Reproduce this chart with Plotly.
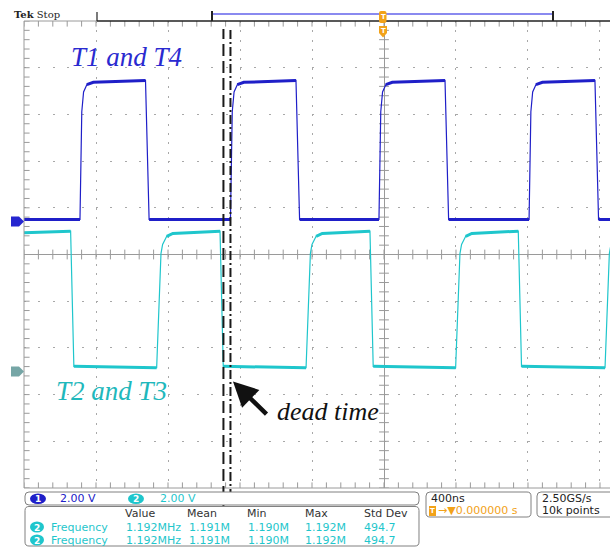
import plotly.graph_objects as go

# ---------------- scope settings ----------------
TIME_PER_DIV_NS = 400
VOLT_PER_DIV = 2.0
X_RANGE_NS = [-2000, 1255.6]
DIV_RANGE = [-5, 5]
CH1_OFFSET_DIV = 0.707
CH2_OFFSET_DIV = -2.51

# ---------------- channel 1 (T1 and T4) ----------------
CH1_RISE_NS = [-1689, -853, -28, 806]
CH1_FALL_NS = [-1325, -489, 339, 1172]
CH1_LOW_V = 0.085
CH1_HIGH_END_V = 6.04
CH1_RISE_PROFILE_NS = [0, 10, 20, 38, 74]
CH1_RISE_PROFILE_V = [0.085, 4.7, 5.55, 5.86, 5.96]
CH1_FALL_NS_DUR = 20

# ---------------- channel 2 (T2 and T3) ----------------
CH2_FALL_NS = [-1741, -911, -78, 746]
CH2_RISE_NS = [-1263, -433, 398, 1228]
CH2_HIGH_START_V = 5.95
CH2_HIGH_END_V = 6.02
CH2_LOW_START_V = 0.23
CH2_LOW_END_V = 0.17
CH2_RISE_PROFILE_NS = [0, 24, 33, 56, 90]
CH2_RISE_PROFILE_V = [0.17, 5.06, 5.45, 5.80, 5.92]
CH2_FALL_NS_DUR = 18

DEAD_TIME_EDGES_NS = [-892, -853]

MEAS_HEADERS = ["Value", "Mean", "Min", "Max", "Std Dev"]
MEAS_ROW = ["1.192MHz", "1.191M", "1.190M", "1.192M", "494.7"]
MEAS_NAME = "Frequency"
CH_SCALES = ["2.00 V", "2.00 V"]
TIMEBASE = "400ns"
TRIG_POS = "→▼0.000000 s"
SAMPLE_RATE = "2.50GS/s"
RECORD_LEN = "10k points"

C1 = "#1f1fc8"
C2 = "#1fc6cc"
GRID = "#a8a8a8"
AXC = "#9a9a9a"
ORANGE = "#f2a219"

# ---------------- build waveforms ----------------
X0, X1 = X_RANGE_NS
ch1_x, ch1_y = [X0], [CH1_LOW_V]
ch1_tx, ch1_ty = [], []
prev = X0
for r, f in zip(CH1_RISE_NS, CH1_FALL_NS):
    ch1_tx += [prev, r, None]
    ch1_ty += [CH1_LOW_V, CH1_LOW_V, None]
    for dt, v in zip(CH1_RISE_PROFILE_NS, CH1_RISE_PROFILE_V):
        ch1_x.append(r + dt); ch1_y.append(v)
    ch1_x.append(f); ch1_y.append(CH1_HIGH_END_V)
    ch1_tx += [r + CH1_RISE_PROFILE_NS[-2], r + CH1_RISE_PROFILE_NS[-1], f, None]
    ch1_ty += [CH1_RISE_PROFILE_V[-2], CH1_RISE_PROFILE_V[-1], CH1_HIGH_END_V, None]
    ch1_x.append(f + CH1_FALL_NS_DUR); ch1_y.append(CH1_LOW_V)
    prev = f + CH1_FALL_NS_DUR
ch1_x.append(X1); ch1_y.append(CH1_LOW_V)
ch1_tx += [prev, X1]; ch1_ty += [CH1_LOW_V, CH1_LOW_V]

ch2_x, ch2_y = [X0], [CH2_HIGH_START_V]
ch2_tx, ch2_ty = [X0], [CH2_HIGH_START_V]
for f, r in zip(CH2_FALL_NS, CH2_RISE_NS):
    ch2_x.append(f); ch2_y.append(CH2_HIGH_END_V)
    ch2_tx += [f, None]; ch2_ty += [CH2_HIGH_END_V, None]
    ch2_x.append(f + CH2_FALL_NS_DUR); ch2_y.append(CH2_LOW_START_V)
    ch2_tx += [f + CH2_FALL_NS_DUR, r, None]
    ch2_ty += [CH2_LOW_START_V, CH2_LOW_END_V, None]
    for dt, v in zip(CH2_RISE_PROFILE_NS, CH2_RISE_PROFILE_V):
        ch2_x.append(r + dt); ch2_y.append(v)
    ch2_tx += [r + CH2_RISE_PROFILE_NS[-2], r + CH2_RISE_PROFILE_NS[-1]]
    ch2_ty += [CH2_RISE_PROFILE_V[-2], CH2_RISE_PROFILE_V[-1]]
ch2_x.append(X1 + 200); ch2_y.append(CH2_HIGH_START_V)

fig = go.Figure()

# ---------------- graticule ticks ----------------
def frange(a, b, s):
    out, v = [], a
    while v <= b + 1e-9:
        out.append(round(v, 6)); v += s
    return out

xt = frange(-2000, 1280, TIME_PER_DIV_NS / 5)
yt = frange(-5, 5, 0.2)
tick_sets = [
    (xt, [0] * len(xt), "line-ns", 7),
    ([0] * len(yt), yt, "line-ew", 7),
    ([X0] * len(yt), yt, "line-ew", 8),
    (xt, [-5] * len(xt), "line-ns", 8),
    (xt, [5] * len(xt), "line-ns", 8),
]
for tx, ty, sym, sz in tick_sets:
    fig.add_trace(go.Scatter(x=tx, y=ty, mode="markers", yaxis="y", hoverinfo="skip",
                             marker=dict(symbol=sym, size=sz, line=dict(color=AXC, width=1)),
                             showlegend=False))

# ---------------- waveforms ----------------
fig.add_trace(go.Scatter(x=ch1_x, y=ch1_y, yaxis="y2", mode="lines", line=dict(color=C1, width=1.2),
                         hoverinfo="skip", showlegend=False))
fig.add_trace(go.Scatter(x=ch1_tx, y=ch1_ty, yaxis="y2", mode="lines", line=dict(color=C1, width=3),
                         hoverinfo="skip", showlegend=False, connectgaps=False))
fig.add_trace(go.Scatter(x=ch2_x, y=ch2_y, yaxis="y3", mode="lines", line=dict(color=C2, width=1.2),
                         hoverinfo="skip", showlegend=False))
fig.add_trace(go.Scatter(x=ch2_tx, y=ch2_ty, yaxis="y3", mode="lines", line=dict(color=C2, width=3),
                         hoverinfo="skip", showlegend=False, connectgaps=False))

# ---------------- pixel helpers for decorations ----------------
PL, PT, PB, PW = 24, 21, 488, 586
def px(x): return (x - PL) / PW
def py(y): return (PB - y) / (PB - PT)

def rrect(x0, y0, x1, y1, r):
    pts = [("M", x0 + r, y0), ("L", x1 - r, y0), ("Q", x1, y0, x1, y0 + r), ("L", x1, y1 - r),
           ("Q", x1, y1, x1 - r, y1), ("L", x0 + r, y1), ("Q", x0, y1, x0, y1 - r),
           ("L", x0, y0 + r), ("Q", x0, y0, x0 + r, y0)]
    s = ""
    for p in pts:
        cmd, coords = p[0], p[1:]
        pairs = [f"{px(coords[i]):.5f},{py(coords[i + 1]):.5f}" for i in range(0, len(coords), 2)]
        s += cmd + " " + " ".join(pairs) + " "
    return s + "Z"

def poly(points):
    return "M " + " L ".join(f"{px(a):.5f},{py(b):.5f}" for a, b in points) + " Z"

shapes = []
# borders
shapes.append(dict(type="line", xref="paper", yref="paper", x0=0, x1=0, y0=0, y1=1, line=dict(color=AXC, width=1)))
shapes.append(dict(type="line", xref="paper", yref="paper", x0=0, x1=1.02, y0=0, y1=0, line=dict(color=AXC, width=1)))
shapes.append(dict(type="line", xref="paper", yref="paper", x0=0, x1=px(97), y0=1, y1=1, line=dict(color=AXC, width=1)))
shapes.append(dict(type="line", xref="paper", yref="paper", x0=px(97), x1=1.02, y0=1, y1=1, line=dict(color="#222", width=1.5)))
# top ruler marks
shapes.append(dict(type="line", xref="paper", yref="paper", x0=px(97), x1=px(97), y0=py(21), y1=py(12), line=dict(color="#222", width=1.2)))
shapes.append(dict(type="line", xref="paper", yref="paper", x0=px(212), x1=px(553), y0=py(14), y1=py(14), line=dict(color="#8a8af0", width=2)))
for xb in (212, 553):
    shapes.append(dict(type="line", xref="paper", yref="paper", x0=px(xb), x1=px(xb), y0=py(21), y1=py(11), line=dict(color="#222", width=2)))
shapes.append(dict(type="path", xref="paper", yref="paper", path=rrect(379, 11, 386.5, 23, 2), fillcolor=ORANGE, line=dict(width=0)))
shapes.append(dict(type="path", xref="paper", yref="paper", path=poly([(379, 26), (387, 26), (387, 33), (383, 37.5), (379, 33)]), fillcolor=ORANGE, line=dict(width=0)))
# channel ground markers
shapes.append(dict(type="path", xref="paper", yref="paper",
                   path=poly([(11, 216.5), (19, 216.5), (24, 221.5), (19, 226.5), (11, 226.5)]), fillcolor="#2626d0", line=dict(width=0)))
shapes.append(dict(type="path", xref="paper", yref="paper",
                   path=poly([(11, 366.5), (19, 366.5), (24, 371.5), (19, 376.5), (11, 376.5)]), fillcolor="#76a6a6", line=dict(width=0)))
# dead time lines
for xd, dsh in zip(DEAD_TIME_EDGES_NS, ["12px,5px", "9px,3px,2px,3px"]):
    shapes.append(dict(type="line", xref="x", yref="paper", x0=xd, x1=xd, y0=py(515), y1=py(29),
                       line=dict(color="#1a1a1a", width=2, dash=dsh), layer="above"))
# info boxes
for (a, b, c, d) in [(25, 492, 419, 505), (25, 506.5, 419, 546), (426, 492, 531, 517), (537, 492, 616, 517)]:
    shapes.append(dict(type="path", xref="paper", yref="paper", path=rrect(a, b, c, d, 4),
                       line=dict(color="#808080", width=1), fillcolor="white"))
# channel pills
pills = [(30, 493.5, 46, 504, "#1f1fc8", "1"), (128, 493.5, 144, 504, C2, "2"),
         (30, 521.5, 44, 532.5, C2, "2"), (30, 534.5, 44, 545.5, C2, "2")]
for (a, b, c, d, col, _) in pills:
    shapes.append(dict(type="circle", xref="paper", yref="paper", x0=px(a), x1=px(c), y0=py(d), y1=py(b),
                       fillcolor=col, line=dict(width=0)))

ann = []
def txt(x, y, s, color="#222", size=11, anchor="left", family="DejaVu Sans"):
    ann.append(dict(xref="paper", yref="paper", x=px(x), y=py(y), text=s, showarrow=False,
                    xanchor=anchor, yanchor="middle", font=dict(family=family, size=size, color=color)))

for (a, b, c, d, col, lab) in pills:
    txt((a + c) / 2, (b + d) / 2 + 0.5, f"<b>{lab}</b>", "white", 9, "center")
txt(12, 15, "<b>Tek</b> Stop", "#222", 10, family="DejaVu Serif")
txt(383, 31.5, "<b>T</b>", "white", 7, "center")
txt(383, 17, "<b>T</b>", "white", 7, "center")
txt(58, 498.5, CH_SCALES[0], "#2020c8", 11)
txt(158, 498.5, CH_SCALES[1], C2, 11)
for xh, h in zip([123, 185, 245, 303, 362], MEAS_HEADERS):
    txt(xh, 513.5, h, "#333", 11)
for yr in (527, 540):
    txt(49, yr, MEAS_NAME, C2, 11)
    for xv, v in zip([124, 187, 246, 303, 362], MEAS_ROW):
        txt(xv, yr, v, C2, 11)
txt(429, 498, TIMEBASE, "#222", 11)
shapes.append(dict(type="rect", xref="paper", yref="paper", x0=px(429), x1=px(436), y0=py(516), y1=py(506),
                   fillcolor=ORANGE, line=dict(width=0)))
txt(432.5, 511, "<b>T</b>", "white", 7, "center")
txt(436, 511, TRIG_POS, ORANGE, 11)
txt(540, 498, SAMPLE_RATE, "#222", 11)
txt(540, 511, RECORD_LEN, "#222", 11)

# labels in data coordinates
def lab(xn, yd, s, color, size):
    ann.append(dict(xref="x", yref="y", x=xn, y=yd, text=f"<i>{s}</i>", showarrow=False,
                    xanchor="center", yanchor="middle", font=dict(family="Liberation Serif", size=size, color=color)))
lab(-1433, 4.22, "T1 and T4", "#2a2ad0", 27)
lab(-1514, -2.92, "T2 and T3", "#1fb8bc", 27)
lab(-311, -3.37, "dead time", "#111", 26)
ann.append(dict(xref="x", yref="y", x=-839, y=-2.72, ax=35, ay=34, text="", showarrow=True,
                arrowhead=2, arrowsize=1.1, arrowwidth=4.5, arrowcolor="#111", standoff=0))

c1_rng = [(DIV_RANGE[0] - CH1_OFFSET_DIV) * VOLT_PER_DIV, (DIV_RANGE[1] - CH1_OFFSET_DIV) * VOLT_PER_DIV]
c2_rng = [(DIV_RANGE[0] - CH2_OFFSET_DIV) * VOLT_PER_DIV, (DIV_RANGE[1] - CH2_OFFSET_DIV) * VOLT_PER_DIV]

fig.update_layout(
    width=610, height=547, margin=dict(l=24, r=0, t=21, b=59),
    paper_bgcolor="white", plot_bgcolor="white", showlegend=False,
    xaxis=dict(range=X_RANGE_NS, tickvals=[-1600, -1200, -800, -400, 400, 800, 1200], showticklabels=False,
               ticks="", showgrid=True, gridcolor=GRID, griddash="2px,7.34px", gridwidth=1,
               zeroline=True, zerolinecolor=AXC, zerolinewidth=1, showline=False, fixedrange=True),
    yaxis=dict(range=DIV_RANGE, tickvals=[-4, -3, -2, -1, 1, 2, 3, 4], showticklabels=False, ticks="",
               showgrid=True, gridcolor=GRID, griddash="2px,12.4px", gridwidth=1,
               zeroline=True, zerolinecolor=AXC, zerolinewidth=1, showline=False, fixedrange=True),
    yaxis2=dict(range=c1_rng, overlaying="y", visible=False, fixedrange=True),
    yaxis3=dict(range=c2_rng, overlaying="y", visible=False, fixedrange=True),
    shapes=shapes, annotations=ann,
)

fig.write_html("out.html")
